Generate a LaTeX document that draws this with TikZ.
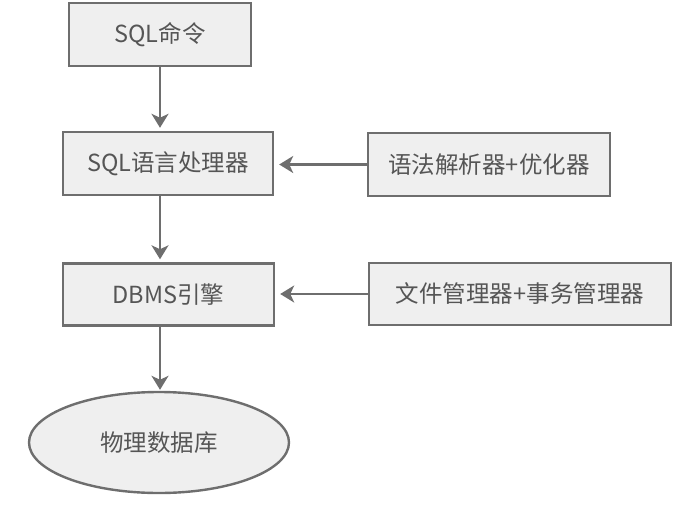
\documentclass[tikz,border=0pt]{standalone}
\usepackage{fontspec}
\setmainfont{Noto Sans CJK SC}
\usepackage{xcolor}
\usetikzlibrary{arrows.meta,positioning,shapes.geometric}
\definecolor{edgegray}{HTML}{6E6E6E}
\definecolor{boxfill}{HTML}{EFEFEF}
\definecolor{txtgray}{HTML}{555555}

\begin{document}
\begin{tikzpicture}[
  x=1pt, y=-1pt,
  box/.style={rectangle, draw=edgegray, fill=boxfill, line width=2.4pt, align=center,
              inner sep=0pt, text=txtgray, font=\fontsize{23.5}{27}\selectfont},
  store/.style={ellipse, draw=edgegray, fill=boxfill, line width=2.4pt, align=center,
              inner sep=0pt, text=txtgray, font=\fontsize{23.5}{27}\selectfont},
  arr/.style={-{Stealth[length=14pt, width=17pt, inset=4pt]}, draw=edgegray, line width=2.6pt}
]
\useasboundingbox (0,0) rectangle (682,508);
\node[box, minimum width=182pt, minimum height=63pt] (cmd) at (160,34.5) {SQL命令};
\node[box, minimum width=210pt, minimum height=63pt] (proc) at (168,163.5) {SQL语言处理器};
\node[box, minimum width=242pt, minimum height=63pt] (parser) at (489,164.5) {语法解析器+优化器};
\node[box, minimum width=211pt, minimum height=62pt] (engine) at (168.5,294.5) {DBMS引擎};
\node[box, minimum width=302pt, minimum height=62pt] (mgr) at (520,294) {文件管理器+事务管理器};
\node[store, minimum width=260pt, minimum height=101pt] (db) at (159,442.5) {物理数据库};
\draw[arr, shorten >=3pt] (cmd.south) -- (cmd.south |- proc.north);
\draw[arr, shorten >=3pt] (cmd.south |- proc.south) -- (cmd.south |- engine.north);
\draw[arr, shorten >=1pt] (cmd.south |- engine.south) -- (cmd.south |- db.north);
\draw[arr, shorten >=5pt] (parser.west) -- (parser.west -| proc.east);
\draw[arr, shorten >=5pt] (mgr.west) -- (mgr.west -| engine.east);
\end{tikzpicture}
\end{document}
